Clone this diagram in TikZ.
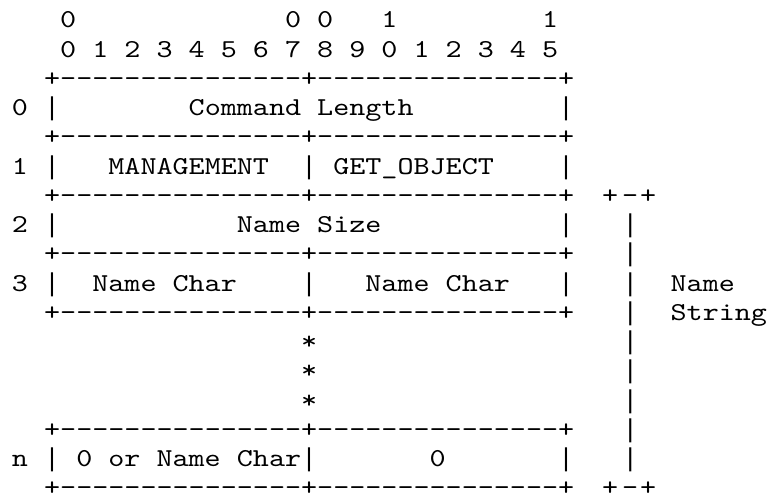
\documentclass[tikz,border=0pt]{standalone}
\usepackage{fontspec}
\setmonofont{lmmono10-regular.otf}[FakeStretch=1.186]
\newfontfamily\vbfont{Liberation Mono}
\newcommand\VB{\hbox to \fontcharwd\font`0{\hss{\vbfont|}\hss}}
\frenchspacing
\begin{document}
\begin{tikzpicture}[x=1pt,y=1pt,
  asc/.style={anchor=base west, inner sep=0pt, outer sep=0pt, text=black,
    font=\ttfamily\fontsize{25.8pt}{29.25pt}\selectfont}]
\useasboundingbox (0,0) rectangle (767,-498);
\def\pitch{29.25}
\def\base{27.9}
\node[asc] (l1)  at (12,{-(\base+0*\pitch)})  {~~~0~~~~~~~~~~~~~0~0~~~1~~~~~~~~~1};
\node[asc] (l2)  at (12,{-(\base+1*\pitch)})  {~~~0~1~2~3~4~5~6~7~8~9~0~1~2~3~4~5};
\node[asc] (l3)  at (12,{-(\base+2*\pitch)})  {~~+---------------+---------------+};
\node[asc] (l4)  at (12,{-(\base+3*\pitch)})  {0~\VB~~~~~~~~Command~Length~~~~~~~~~\VB};
\node[asc] (l5)  at (12,{-(\base+4*\pitch)})  {~~+---------------+---------------+};
\node[asc] (l6)  at (12,{-(\base+5*\pitch)})  {1~\VB~~~MANAGEMENT~~\VB~GET\_OBJECT~~~~\VB};
\node[asc] (l7)  at (12,{-(\base+6*\pitch)})  {~~+---------------+---------------+};
\node[asc] (b7)  at (602,{-(\base+6*\pitch)}) {+\kern4pt-\kern2pt+};
\node[asc] (l8)  at (12,{-(\base+7*\pitch)})  {2~\VB~~~~~~~~~~~Name~Size~~~~~~~~~~~\VB~~~\VB};
\node[asc] (l9)  at (12,{-(\base+8*\pitch)})  {~~+---------------+---------------+~~~\VB};
\node[asc] (l10) at (12,{-(\base+9*\pitch)})  {3~\VB~~Name~Char~~~~\VB~~~Name~Char~~~\VB~~~\VB~~Name};
\node[asc] (l11) at (12,{-(\base+10*\pitch)}) {~~+---------------+---------------+~~~\VB~~String};
\node[asc] (l12) at (12,{-(\base+11*\pitch)}) {~~~~~~~~~~~~~~~~~~*~~~~~~~~~~~~~~~~~~~\VB};
\node[asc] (l13) at (12,{-(\base+12*\pitch)}) {~~~~~~~~~~~~~~~~~~*~~~~~~~~~~~~~~~~~~~\VB};
\node[asc] (l14) at (12,{-(\base+13*\pitch)}) {~~~~~~~~~~~~~~~~~~*~~~~~~~~~~~~~~~~~~~\VB};
\node[asc] (l15) at (12,{-(\base+14*\pitch)}) {~~+---------------+---------------+~~~\VB};
\node[asc] (l16) at (12,{-(\base+15*\pitch)}) {n~\VB~0~or~Name~Char\VB~~~~~~~0~~~~~~~\VB~~~\VB};
\node[asc] (l17) at (12,{-(\base+16*\pitch)}) {~~+---------------+---------------+};
\node[asc] (b17) at (602,{-(\base+16*\pitch)}) {+\kern4pt-\kern2pt+};
\end{tikzpicture}
\end{document}
